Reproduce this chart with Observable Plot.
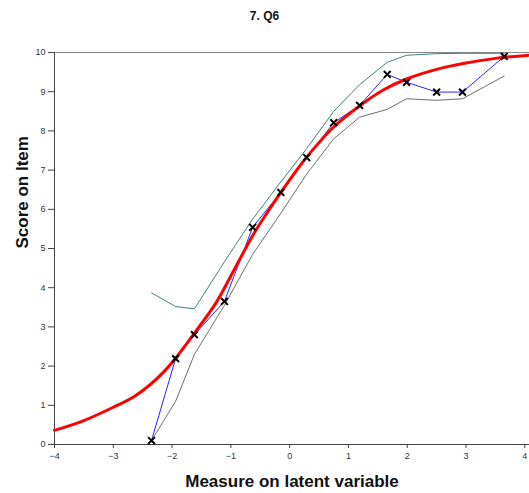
<!DOCTYPE html>
<html>
<head>
<meta charset="utf-8">
<script src="https://cdn.jsdelivr.net/npm/d3@7"></script>
<script src="https://cdn.jsdelivr.net/npm/@observablehq/plot@0.6"></script>
<style>
  body { margin: 0; background: #fff; font-family: "Liberation Sans", Arial, sans-serif; }
  #title { height: 32px; line-height: 32px; text-align: center; font-weight: bold; font-size: 12px; color: #111; }
  #chart svg { display: block; }
</style>
</head>
<body>
<div id="title">7. Q6</div>
<div id="chart"></div>
<script>
// Observed class intervals (mean measure, mean score)
const classX   = [-2.35, -1.94, -1.62, -1.11, -0.63, -0.15, 0.29, 0.75, 1.19, 1.66, 1.99, 2.50, 2.94, 3.65];
const observed = [0.10, 2.19, 2.80, 3.65, 5.54, 6.43, 7.32, 8.21, 8.65, 9.44, 9.24, 8.99, 8.99, 9.90];
const upperBand = [3.87, 3.52, 3.46, 4.66, 5.75, 6.70, 7.55, 8.50, 9.18, 9.75, 9.93, 9.97, 9.98, 9.98];
const lowerBand = [0.10, 1.10, 2.30, 3.55, 4.85, 5.90, 6.90, 7.80, 8.35, 8.55, 8.82, 8.78, 8.82, 9.40];

// Expected score curve
const curveX = [-4.0, -3.5, -3.0, -2.65, -2.37, -2.15, -1.95, -1.6, -1.25, -1.0, -0.6, -0.3, 0.0, 0.3, 0.75, 1.2, 1.6, 2.0, 2.5, 3.0, 3.5, 4.08];
const curveY = [0.36, 0.61, 0.95, 1.22, 1.53, 1.84, 2.18, 2.88, 3.62, 4.30, 5.40, 6.10, 6.75, 7.35, 8.10, 8.65, 9.05, 9.33, 9.57, 9.73, 9.85, 9.93];

const xTicks = [-4, -3, -2, -1, 0, 1, 2, 3, 4];
const yTicks = [0, 1, 2, 3, 4, 5, 6, 7, 8, 9, 10];

const classes = classX.map((x, i) => ({x, obs: observed[i], up: upperBand[i], lo: lowerBand[i]}));
const curve = curveX.map((x, i) => ({x, y: curveY[i]}));

const plot = Plot.plot({
  width: 529,
  height: 461,
  marginTop: 20,
  marginBottom: 49,
  marginLeft: 54,
  marginRight: 0,
  style: {fontFamily: "'Liberation Sans', Arial, sans-serif", background: "#fff", overflow: "hidden"},
  x: {domain: [-4, 4.08]},
  y: {domain: [0, 10]},
  marks: [
    Plot.axisX({ticks: xTicks, tickSize: 4, tickPadding: 4, fontSize: 9, color: "#333", stroke: "#444", label: null}),
    Plot.axisY({ticks: yTicks, tickSize: 6, tickPadding: 3, fontSize: 9, color: "#333", stroke: "#444", label: null}),
    Plot.ruleY([10], {stroke: "#888", strokeWidth: 1}),
    Plot.ruleY([0], {stroke: "#444", strokeWidth: 1}),
    Plot.ruleX([-4], {stroke: "#444", strokeWidth: 1}),
    Plot.line(classes, {x: "x", y: "up", stroke: "#3f7f7c", strokeWidth: 1}),
    Plot.line(classes, {x: "x", y: "lo", stroke: "#6e6e6e", strokeWidth: 1}),
    Plot.line(classes, {x: "x", y: "obs", stroke: "#2424ff", strokeWidth: 1}),
    Plot.line(curve, {x: "x", y: "y", stroke: "#ff0000", strokeWidth: 3, curve: "catmull-rom"}),
    Plot.dot(classes, {x: "x", y: "obs", symbol: "times", r: 3.2, stroke: "#000", strokeWidth: 2}),
    Plot.text(["Measure on latent variable"], {frameAnchor: "bottom", dy: 42, text: d => d, fontSize: 17, fontWeight: "bold", fill: "#111"}),
    Plot.text(["Score on Item"], {frameAnchor: "left", dx: -32, rotate: -90, text: d => d, fontSize: 17, fontWeight: "bold", fill: "#111"})
  ]
});
document.getElementById("chart").appendChild(plot);
</script>
</body>
</html>
